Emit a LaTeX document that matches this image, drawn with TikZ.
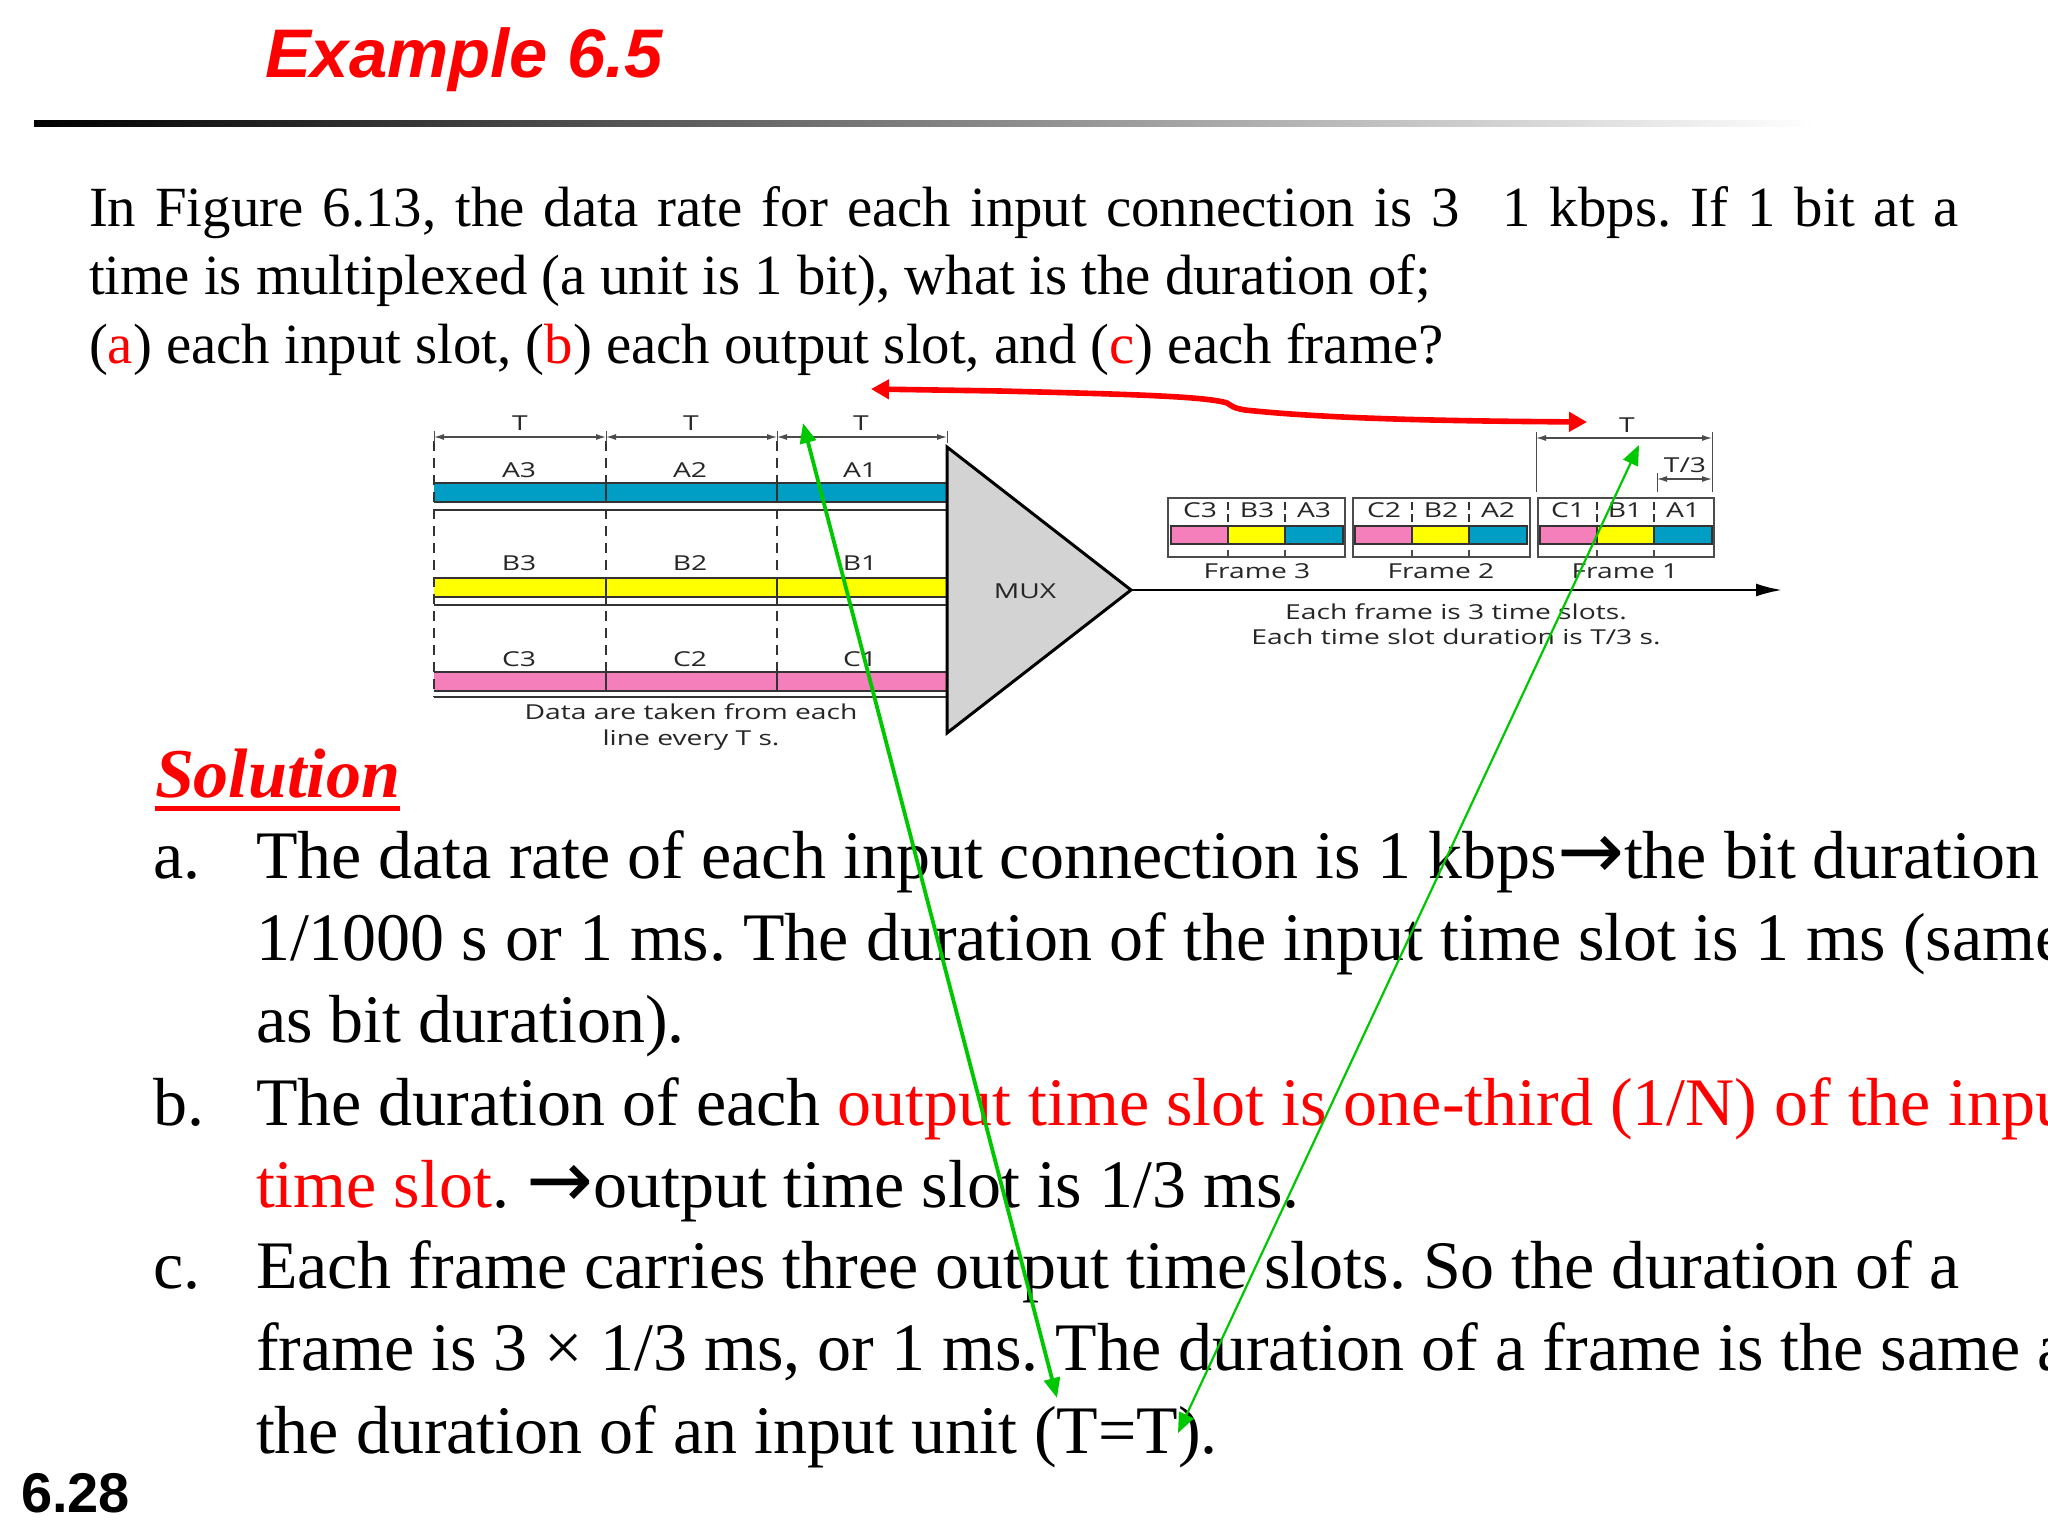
\documentclass[tikz,border=0pt]{standalone}
\usepackage{fontspec}
\setmainfont{Liberation Serif}
\newfontfamily\sansf{Liberation Sans}
\newfontfamily\diagf[FakeStretch=1.37]{Open Sans}
\newfontfamily\arrowf{DejaVu Sans}
\usetikzlibrary{arrows.meta}
\definecolor{bandblue}{HTML}{009DC4}
\definecolor{bandyellow}{HTML}{FFFF00}
\definecolor{bandpink}{HTML}{F47FBA}
\definecolor{muxgray}{HTML}{D3D3D3}
\definecolor{greenarrow}{HTML}{00C800}
\newcommand{\bigarrow}{{\arrowf\fontsize{40pt}{40pt}\selectfont →}}
\tikzset{
  x=0.5pt,y=-0.5pt,
  txt/.style={anchor=base west,inner sep=0pt,outer sep=0pt},
  para/.style={txt,font=\frenchspacing\fontsize{28.4pt}{32pt}\selectfont},
  body/.style={txt,font=\frenchspacing\fontsize{34pt}{40pt}\selectfont},
  lab/.style={inner sep=0pt,outer sep=0pt,text=black!85,align=center,font=\diagf\fontsize{10.3pt}{12.6pt}\selectfont},
  dimline/.style={black!70,line width=0.6pt,{Latex[length=5pt,width=3pt]}-{Latex[length=5pt,width=3pt]}},
  extline/.style={black!70,line width=0.5pt},
  dashline/.style={black!80,line width=0.8pt,dash pattern=on 5pt off 3.5pt},
  band/.style={draw=black!80,line width=0.8pt},
  redarrow/.style={red,line width=2.8pt,{Triangle[length=9pt,width=9.5pt]}-{Triangle[length=9pt,width=9.5pt]}},
  greenA/.style={greenarrow,line width=1.9pt,{Triangle[length=10pt,width=8pt]}-{Triangle[length=10pt,width=8pt]}},
  greenB/.style={greenarrow,line width=1.1pt,{Triangle[length=10pt,width=8pt]}-{Triangle[length=10pt,width=8pt]}},
}
\begin{document}
\begin{tikzpicture}
\clip (0,0) rectangle (2048,1536);
\fill[white] (0,0) rectangle (2048,1536);
% title
\node[txt,text=red,font=\sansf\bfseries\itshape\fontsize{34.4pt}{40pt}\selectfont] (title) at (265,78) {Example 6.5};
\shade[left color=black,right color=white] (34,120) rectangle (1815,126);
% problem
\node[para] (p1) at (89,226) {\makebox[935pt][s]{In Figure 6.13, the data rate for each input connection is 3\hspace{0.75em}1 kbps. If 1 bit at a}};
\node[para] (p2) at (89,294) {time is multiplexed (a unit is 1 bit), what is the duration of;};
\node[para] (p3) at (89,363) {(\textcolor{red}{a}) each input slot, (\textcolor{red}{b}) each output slot, and (\textcolor{red}{c}) each frame?};
% left bands
\foreach \ya/\yb/\yl/\col in {483/502/510/bandblue,578/597/605/bandyellow,672/691/697/bandpink}{
  \fill[\col] (434,\ya) rectangle (947,\yb);
  \draw[band] (434,\ya) -- (947,\ya) (434,\yb) -- (947,\yb);
  \draw[black!80,line width=1.2pt] (434,\yl) -- (947,\yl);
  \draw[band] (606,\ya) -- (606,\yb) (777,\ya) -- (777,\yb);
}
\foreach \x in {434,606,777}{ \draw[dashline] (\x,441) -- (\x,697); }
\draw[extline] (434,431) -- (434,443) (606,431) -- (606,443) (777,431) -- (777,443) (947,431) -- (947,443);
\coordinate (d1) at (434,437); \coordinate (d2) at (606,437); \coordinate (d3) at (777,437); \coordinate (d4) at (947,437);
\draw[dimline] (d1) -- (d2); \draw[dimline] (d2) -- (d3); \draw[dimline] (d3) -- (d4);
\node[lab] (t1) at (520,423) {T};
\node[lab] (t2) at (691,423) {T};
\node[lab] (t3) at (861,423) {T};
\node[lab] (a3) at (519,470) {A3};
\node[lab] (a2) at (690,470) {A2};
\node[lab] (a1) at (860,470) {A1};
\node[lab] (b3) at (519,563) {B3};
\node[lab] (b2) at (690,563) {B2};
\node[lab] (b1) at (860,563) {B1};
\node[lab] (c3) at (519,659) {C3};
\node[lab] (c2) at (690,659) {C2};
\node[lab] (c1) at (860,659) {C1};
\node[lab] (data) at (691,727) {Data are taken from each\\line every T s.};
% mux
\coordinate (m1) at (947,447); \coordinate (m2) at (947,733); \coordinate (m3) at (1131,590);
\draw[fill=muxgray,draw=black,line width=1.5pt,line join=miter] (m1) -- (m3) -- (m2) -- cycle;
\node[lab] (mux) at (1025,591) {MUX};
\coordinate (outEnd) at (1782,590);
\draw[black,line width=1.2pt,-{Latex[length=13pt,width=6.5pt]}] (m3) -- (outEnd);
% frames
\foreach \bx/\ex/\p/\yy/\bb/\fx/\n/\cx in {1168/1345/1171/1228/1285/1343/3/1257,1353/1530/1355/1412/1469/1527/2/1441,1538/1714/1540/1597/1654/1712/1/1625}{
  \draw[black!70,line width=0.7pt] (\bx,498) rectangle (\ex,557);
  \fill[bandpink] (\p,526) rectangle (\yy,544);
  \fill[bandyellow] (\yy,526) rectangle (\bb,544);
  \fill[bandblue] (\bb,526) rectangle (\fx,544);
  \draw[band] (\p,526) rectangle (\fx,544) (\yy,526) -- (\yy,544) (\bb,526) -- (\bb,544);
  \draw[black!80,line width=0.7pt,dash pattern=on 4pt off 2pt] (\yy,502) -- (\yy,526) (\bb,502) -- (\bb,526);
  \draw[black!70,line width=0.7pt] (\yy,550) -- (\yy,557) (\bb,550) -- (\bb,557);
}
\foreach \nm/\x/\t in {q1/1200/C3,q2/1257/B3,q3/1314/A3,q4/1384/C2,q5/1441/B2,q6/1498/A2,q7/1568/C1,q8/1625/B1,q9/1683/A1}{
  \node[lab] (\nm) at (\x,510) {\t};
}
\node[lab] (f3) at (1257,571) {Frame 3};
\node[lab] (f2) at (1441,571) {Frame 2};
\node[lab] (f1) at (1625,571) {Frame 1};
\node[lab] (each) at (1456,624) {Each frame is 3 time slots.\\Each time slot duration is T/3 s.};
\draw[extline] (1536,432) -- (1536,492) (1712,432) -- (1712,492) (1657,473) -- (1657,492);
\coordinate (e1) at (1536,438); \coordinate (e2) at (1712,438); \coordinate (e3) at (1657,479); \coordinate (e4) at (1712,479);
\draw[dimline] (e1) -- (e2); \draw[dimline] (e3) -- (e4);
\node[lab] (bigT) at (1627,425) {T};
\node[lab] (tthird) at (1685,465) {T/3};
% solution
\node[txt,text=red,font=\bfseries\itshape\fontsize{35pt}{40pt}\selectfont] (sol) at (155,797) {Solution};
\draw[red,line width=2.5pt] (sol.base west |- 0,808) -- (sol.base east |- 0,808);
\node[body] (la) at (153,878) {a.};
\node[body] (s1) at (256,878) {The data rate of each input connection is 1 kbps\bigarrow the bit duration};
\node[body] (s2) at (256,960) {1/1000 s or 1 ms. The duration of the input time slot is 1 ms (same};
\node[body] (s3) at (256,1042) {as bit duration).};
\node[body] (lb) at (153,1125) {b.};
\node[body] (s4) at (256,1125) {The duration of each \textcolor{red}{output time slot is one-third (1/N) of the input}};
\node[body] (s5) at (256,1207) {\textcolor{red}{time slot}. \bigarrow output time slot is 1/3 ms.};
\node[body] (lc) at (153,1288) {c.};
\node[body] (s6) at (256,1288) {Each frame carries three output time slots. So the duration of a};
\node[body] (s7) at (256,1370) {frame is 3 × 1/3 ms, or 1 ms. The duration of a frame is the same as};
\node[body] (s8) at (256,1453) {the duration of an input unit (T=T).};
\node[txt,font=\sansf\bfseries\fontsize{28pt}{32pt}\selectfont] (pg) at (21,1512) {6.28};
% overlay arrows
\coordinate (ra) at (871,389); \coordinate (rb) at (1587,422);
\draw[redarrow] (ra) -- (1000,391) .. controls (1120,394) and (1205,396) .. (1227,403) .. controls (1232,406) and (1233,408) .. (1245,410) .. controls (1330,419) and (1450,421) .. (rb);
\coordinate (ga) at (803,423); \coordinate (gb) at (1057,1398);
\draw[greenA] (ga) -- (gb);
\coordinate (gc) at (1639,445); \coordinate (gd) at (1178,1433);
\draw[greenB] (gc) -- (gd);
\end{tikzpicture}
\end{document}
